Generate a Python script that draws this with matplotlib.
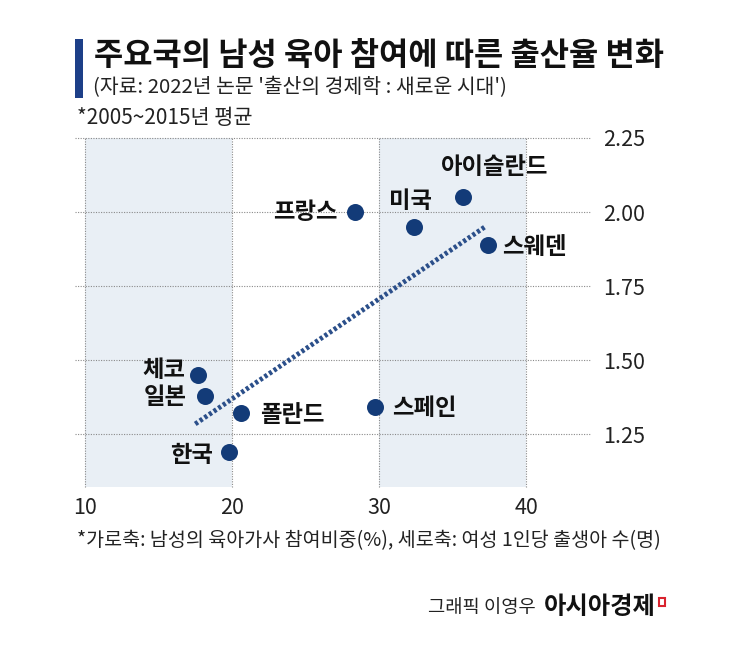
import matplotlib.pyplot as plt
from matplotlib.patches import Rectangle

plt.rcParams['font.family'] = ['Noto Sans CJK KR', 'DejaVu Sans']

W, H = 745, 647

countries = ['프랑스', '미국', '아이슬란드', '스웨덴', '체코', '일본', '폴란드', '스페인', '한국']
male_share = [28.4, 32.4, 35.7, 37.4, 17.7, 18.15, 20.6, 29.7, 19.8]
fertility = [2.00, 1.95, 2.05, 1.89, 1.45, 1.38, 1.32, 1.34, 1.19]
trend_x = [17.5, 37.3]
trend_y = [1.284, 1.953]
x_ticks = [10, 20, 30, 40]
y_ticks = [1.25, 1.50, 1.75, 2.00, 2.25]
shaded = [(10, 20), (30, 40)]

# label offsets in pixels relative to the dot
label_pos = {
    '프랑스': (-18, 0, 'right'),
    '미국': (-4, 26, 'center'),
    '아이슬란드': (32, 30, 'center'),
    '스웨덴': (14, -2, 'left'),
    '체코': (-13, 5, 'right'),
    '일본': (-18, -1, 'right'),
    '폴란드': (19, -2, 'left'),
    '스페인': (17, -1, 'left'),
    '한국': (-16, -3, 'right'),
}


def fx(px):
    return px / W


def fy(py):
    return 1 - py / H


fig = plt.figure(figsize=(W / 100, H / 100), dpi=100)
ax = fig.add_axes([fx(75), fy(487), 516 / W, 349 / H])
ax.set_xlim(9.32, 44.42)
ax.set_ylim(1.071, 2.25)
for s in ax.spines.values():
    s.set_visible(False)

for a, b in shaded:
    ax.axvspan(a, b, color='#e9eff5', lw=0, zorder=0)

grid_kw = dict(color='#8a8a8a', lw=0.8, linestyle=(0, (1, 1.3)), zorder=1, clip_on=False)
for v in y_ticks:
    ax.axhline(v, **grid_kw)
for v in x_ticks:
    ax.axvline(v, **grid_kw)

ax.plot(trend_x, trend_y, color='#2b4f8a', lw=3.5, dashes=(0.65, 0.5),
        solid_capstyle='butt', dash_capstyle='butt', zorder=2)
ax.scatter(male_share, fertility, s=150, color='#133b78', lw=0, zorder=3)

for name, x, y in zip(countries, male_share, fertility):
    dx, dy, ha = label_pos[name]
    ax.annotate(name, (x, y), xytext=(dx, dy), textcoords='offset pixels',
                ha=ha, va='center', fontsize=16.8, fontweight='bold', color='#111111', zorder=4)

ax.set_xticks(x_ticks)
ax.set_xticklabels([str(v) for v in x_ticks])
ax.set_yticks(y_ticks)
ax.set_yticklabels([f'{v:.2f}' for v in y_ticks])
ax.yaxis.tick_right()
ax.tick_params(axis='y', length=0, pad=9, labelsize=15.5, labelcolor='#222222')
ax.tick_params(axis='x', length=0, pad=7, labelsize=15.5, labelcolor='#222222')

# header
fig.patches.append(Rectangle((fx(75), fy(98)), 8 / W, 59 / H, transform=fig.transFigure,
                             color='#1d3f88', lw=0))
fig.text(fx(94), fy(56), '주요국의 남성 육아 참여에 따른 출산율 변화', fontsize=22.9,
         fontweight='bold', color='#111111', va='center', ha='left')
fig.text(fx(93), fy(88), "(자료: 2022년 논문 '출산의 경제학 : 새로운 시대')", fontsize=14.7,
         color='#222222', va='center', ha='left')
fig.text(fx(77), fy(118), '*2005~2015년 평균', fontsize=15, color='#222222', va='center', ha='left')

# footer
fig.text(fx(77), fy(541), '*가로축: 남성의 육아가사 참여비중(%), 세로축: 여성 1인당 출생아 수(명)',
         fontsize=14.05, color='#222222', va='center', ha='left')
fig.text(fx(536), fy(607), '그래픽 이영우', fontsize=13.5, color='#222222', va='center', ha='right')
fig.text(fx(656), fy(607), '아시아경제', fontsize=17.5, fontweight='bold', color='#111111',
         va='center', ha='right')
fig.patches.append(Rectangle((fx(659), fy(606)), 6 / W, 8 / H, transform=fig.transFigure,
                             fill=False, edgecolor='#d9232e', lw=1.5))

fig.savefig('out.png', dpi=100)
